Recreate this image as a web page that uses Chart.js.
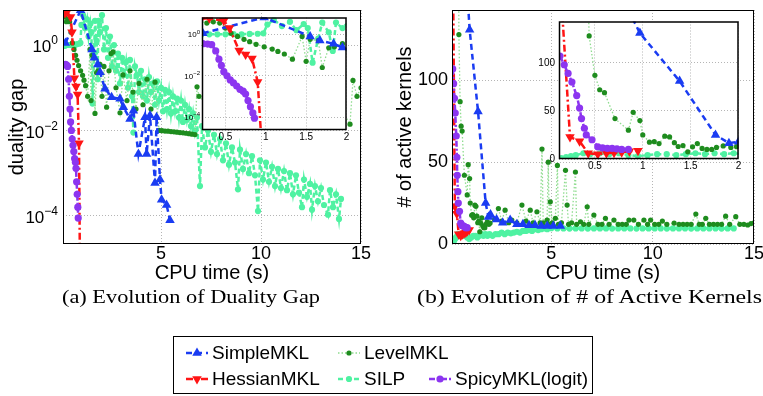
<!DOCTYPE html>
<html><head><meta charset="utf-8">
<script src="https://cdn.jsdelivr.net/npm/chart.js@4.4.1/dist/chart.umd.min.js"></script>
<style>
html,body{margin:0;padding:0;background:#fff}
#wrap{position:relative;width:763px;height:396px;overflow:hidden;font-family:"Liberation Sans",Arial,sans-serif}
#wrap canvas{position:absolute}
.cap{position:absolute;top:287px;font-family:"Liberation Serif","Times New Roman",serif;font-size:19px;line-height:20px;white-space:nowrap;transform-origin:0 0;color:#000}
.leg{position:absolute;font-size:19px;line-height:20px;white-space:nowrap;color:#000}
</style></head><body>
<div id="wrap">
<canvas id="gapMain" width="380" height="290" style="left:0;top:0"></canvas>
<canvas id="kerMain" width="383" height="290" style="left:380px;top:0"></canvas>
<canvas id="gapInset" width="176" height="132" style="left:176px;top:12px"></canvas>
<canvas id="kerInset" width="211" height="157" style="left:533px;top:16px"></canvas>
<div class="cap" id="capA">(a) Evolution of Duality Gap</div>
<div class="cap" id="capB">(b) Evolution of # of Active Kernels</div>
<div id="legBox" style="position:absolute;left:173px;top:336px;width:418px;height:56px;border:1.5px solid #000"></div>
<canvas id="legCanvas" width="420" height="58" style="left:173px;top:336px"></canvas>
</div>
<script>
const FONT = '"Liberation Sans", Arial, Helvetica, sans-serif';

// ---------- (a) duality gap vs CPU time ----------
const simpleGapTime = [0.22, 0.98, 1.55, 1.67, 1.84, 1.95, 2.2, 2.53, 2.95, 3.12, 3.45, 3.62, 3.87, 4.2, 4.28, 4.45, 4.7, 4.78, 4.95, 5.03, 5.28, 5.45];
const simpleGap     = [1.12, 6.5, 0.79, 0.5, 0.35, 0.23, 0.095, 0.06, 0.055, 0.035, 0.0186, 0.029, 0.0028, 0.0204, 0.0028, 0.0224, 5.9e-4, 0.0204, 7.1e-4, 2.4e-4, 1.8e-4, 7.9e-5];

const hessGapTime = [0.2, 0.3, 0.48, 0.55, 0.67, 0.75, 0.83, 0.9, 0.96];
const hessGap     = [5.6, 6.0, 4.5, 2.0, 0.166, 0.107, 0.069, 0.005, 1e-6];

const levelGapTime = [0.18,0.27,0.35,0.43,0.5, 0.57,0.65,0.73,0.8,0.88, 0.98,1.08,1.15,1.23,1.33, 1.45,1.5,1.55,1.65,1.7,
  1.78,1.85,1.95,2.05,2.15, 2.28,2.4,2.5,2.6,2.75, 2.95,3.1,3.3,3.45,3.6, 3.75,3.9,4.1,4.3,4.5,
  4.7,4.9,5.05,5.2,5.35, 5.5,5.65,5.8,5.95,6.1, 6.25,6.4,6.55,6.7,6.8, 6.9,7.5,8.3,9.0,10.0, 11.0,12.0,13.0,14.0,14.45, 14.6,14.8,15.0];
const levelGap = [4.5,3.5,4.0,3.5,2.0, 1.12,0.79,0.575,0.44,0.33, 0.25,0.195,0.15,0.112,0.063, 0.79,0.05,0.575,0.5,0.025,
  0.224,0.25,0.355,0.063,0.316, 0.035,0.25,0.63,0.69,0.1, 0.026,0.2,0.05,0.25,0.079, 0.0316,0.126,0.04,0.158,0.0316,
  0.135,0.01,0.0099,0.0097,0.0096, 0.0094,0.0093,0.0091,0.0089,0.0088, 0.0086,0.0084,0.0082,0.008,0.105, 0.063,0.0316,0.063,0.025,0.05, 0.02,0.04,0.0158,0.0316,0.014, 0.148,0.063,0.1];

const silpGapTime = [0.2,0.3,0.4,0.5,0.6,0.7,0.8,0.9,0.97,1.02,
  1.1,1.2,1.3,1.38,1.47,1.52,1.58,1.65,1.7,1.78,
  1.83,1.87,1.95,2.05,2.15,2.25,2.35,2.45,2.55,2.65,
  2.75,2.85,2.95,3.05,3.15,3.25,3.35,3.45,3.55,3.62,
  3.7,3.8,3.9,4.0,4.1,4.2,4.3,4.4,4.5,4.6,
  4.7,4.8,4.9,5.0,5.1,5.2,5.3,5.4,5.5,5.6,
  5.7,5.8,5.9,6.0,6.1,6.2,6.3,6.4,6.5,6.6,
  6.7,6.8,6.95,7.05,7.2,7.35,7.5,7.65,7.8,7.95,
  8.1,8.25,8.4,8.55,8.7,8.85,8.95,9.1,9.25,9.4,
  9.55,9.7,9.85,9.95,10.1,10.25,10.4,10.55,10.7,10.85,
  11.0,11.15,11.3,11.45,11.6,11.75,11.9,12.05,12.15,12.3,
  12.45,12.55,12.7,12.85,13.0,13.15,13.35,13.45,13.6,13.75,
  13.9,14.0];
const silpGap = [0.955,1.0,1.0,1.0,1.02,1.0,1.05,1.07,1.12,2.95,
  5.0,2.5,4.0,1.58,3.16,2.0,0.0427,0.63,3.7,1.26,
  0.158,3.7,2.0,5.0,0.79,2.5,0.5,1.58,0.316,1.0,
  0.25,0.63,0.126,0.5,0.2,0.4,0.1,0.447,0.063,0.0089,
  0.316,0.2,0.079,0.25,0.063,0.158,0.05,0.178,0.079,0.126,
  0.04,0.141,0.05,0.1,0.028,0.089,0.0316,0.079,0.025,0.063,
  0.028,0.056,0.02,0.05,0.0158,0.04,0.0178,0.0316,0.0126,0.025,
  0.01,0.02,5.0e-4,0.0126,0.004,0.01,0.00316,0.0079,0.0028,0.0063,
  0.002,0.005,0.00158,0.004,0.00178,4.2e-4,0.00355,0.00126,0.0028,0.001,
  0.0025,8.9e-4,1.3e-4,0.002,7.1e-4,0.00178,6.3e-4,0.00141,5.0e-4,0.00126,
  4.5e-4,0.00112,4.0e-4,0.001,3.2e-4,8.9e-4,3.5e-4,1.6e-4,7.1e-4,2.8e-4,
  5.6e-4,1.4e-4,5.0e-4,2.2e-4,4.5e-4,1.8e-4,1.07e-4,4.0e-4,1.6e-4,3.2e-4,
  8.5e-5,2.5e-4];

const spicyGapTime = [0.22,0.28,0.33,0.38,0.42,0.45,0.48,0.52,0.56,0.6,0.64,0.68,0.72,0.75,0.78,0.81,0.84,0.86];
const spicyGap     = [0.355,0.34,0.316,0.158,0.063,0.0316,0.0158,0.01,0.0063,0.0045,0.0032,0.0022,0.0018,0.0013,6.3e-4,3.2e-4,1.6e-4,8.9e-5];

// ---------- (b) number of active kernels vs CPU time ----------
const simpleKerTime = [0.8, 0.97, 1.385, 1.76, 1.9, 2.0, 2.3, 2.6, 2.97, 3.3, 3.6, 3.9, 4.2, 4.5, 4.8, 5.1, 5.45];
const simpleKer     = [165, 131, 81, 25, 16.5, 18, 15, 13, 14.6, 12, 12, 11.5, 11.5, 11, 11, 11, 11];

const hessKerTime = [0.16, 0.24, 0.34, 0.43, 0.53, 0.62, 0.7, 0.78, 0.86, 0.95];
const hessKer     = [150, 23, 18.5, 6, 5, 6, 6.5, 7, 8, 8.6];

const levelKerTime = [0.42,0.44,0.5,0.55,0.6,0.71,0.85,0.9,0.97,1.0,
  1.07,1.12,1.17,1.23,1.28,1.33,1.37,1.42,1.47,1.52,
  1.57,1.62,1.67,1.72,1.77,1.84,1.92,1.98,2.2,2.39,
  2.55,2.72,2.9,3.05,3.3,3.55,3.75,3.96,4.1,4.29,
  4.45,4.54,4.6,4.79,4.85,4.9,4.95,5.05,5.2,5.3,
  5.35,5.5,5.7,5.78,5.85,6.0,6.19,6.25,6.44,6.6,
  6.77,6.85,7.1,7.3,7.5,7.67,7.85,8.09,8.3,8.5,
  8.7,8.83,9.07,9.3,9.57,9.75,9.9,10.1,10.3,10.48,
  10.7,11.06,11.3,11.5,11.7,11.9,12.13,12.3,12.45,12.62,
  12.8,13.0,13.2,13.4,13.6,13.8,14.1,14.3,14.5,14.69,
  14.85,15.0];
const levelKer = [200,128,87,72,69,42,30,48.5,40,25,
  17.5,18,16,23.7,23,17,13,14,7.5,12.7,
  16,11,10,10,12,13.6,12,12.8,15,21.7,
  14,20.7,13,14.6,13,23.8,14,20.7,13,19.7,
  13,58,13,14.6,50,12,25.8,13,15.7,48,
  12,13,45,23.8,12,13,44,12,13.6,12,
  22.7,12,17.7,12,12,15.7,12,14.6,12,12,
  12,14.6,14.6,12,14.6,12,14.6,12,12,14,
  12,12.8,12,12,12,12,18.3,12,12,15.7,
  12,12,12,12,17,12,16.7,12,12,11.6,
  12.5,13];

const silpKerTime = [0.15,0.2,0.25,0.3,0.38,0.45,0.55,0.65,0.75,0.85,
  0.95,1.05,1.15,1.25,1.35,1.45,1.55,1.65,1.75,1.85,
  1.95,2.1,2.25,2.4,2.55,2.7,2.85,3.0,3.15,3.3,
  3.45,3.6,3.75,3.9,4.05,4.2,4.35,4.5,4.65,4.8,
  5.0,5.3,5.6,5.9,6.2,6.5,6.8,7.1,7.4,7.7,
  8.0,8.3,8.6,8.9,9.2,9.5,9.8,10.1,10.4,10.7,
  11.0,11.3,11.6,11.9,12.2,12.5,12.8,13.1,13.4,13.7,
  14.0];
const silpKer = [1,2,3,4,6,5,6,5,6,4,
  3,4,5,5,4,5,6,5,6,5,
  6,5,6,6,7,6,7,6.5,7,7.5,
  7,8,8,8.5,8,9,8.5,9,9.5,9,
  9.7,9.5,9.5,9.4,9.5,9.5,9.4,9.5,9.5,9.5,
  9.4,9.5,9.5,9.5,9.4,9.5,9.5,9.5,9.5,9.4,
  9.5,9.5,9.5,9.4,9.5,9.5,9.5,9.5,9.4,9.5,
  9.5];

const spicyKerTime = [0.135,0.18,0.22,0.26,0.31,0.34,0.36,0.39,0.41,0.47,0.53,0.58,0.63,0.68,0.73,0.78,0.85];
const spicyKer     = [107,98,89,80,66,53,42,32,25,20,12.7,11.5,11,11,10.5,10,10];

// ---------- axis ticks ----------
const timeTicks = [5, 10, 15];
const insetTimeTicks = [0.5, 1, 1.5, 2];
const gapTicks = [1, 1e-2, 1e-4];
const kerTicks = [0, 50, 100];

// ---------- styles ----------
const STY = {
  simple: {label:'SimpleMKL', color:'#1a3cf2', dash:[6,4], lw:2.5, style:'triangle', r:5.5, rot:0, order:3},
  hess:   {label:'HessianMKL', color:'#ff1414', dash:[7,3,2,3], lw:2.5, style:'triangle', r:5.5, rot:180, order:2},
  level:  {label:'LevelMKL', color:'#8fdc8f', pcolor:'#1e8c1e', dash:[1.5,2], lw:1.3, style:'circle', r:2.6, rot:0, order:4},
  silp:   {label:'SILP', color:'#4ff2a2', dash:[5,3], lw:2.5, style:'circle', r:3.1, rot:0, order:5},
  spicy:  {label:'SpicyMKL(logit)', color:'#8c35f0', dash:[6,2,2,2], lw:2.5, style:'circle', r:3.6, rot:0, order:1}
};

function pts(xs, ys){ return xs.map((x,i)=>({x:x, y:ys[i]})); }
function ds(st, xs, ys){
  const pc = st.pcolor || st.color;
  return { label: st.label, data: pts(xs, ys), showLine: true, tension: 0,
    borderColor: st.color, backgroundColor: pc, borderWidth: st.lw, borderDash: st.dash,
    pointStyle: st.style, pointRadius: st.r, pointRotation: st.rot, pointBackgroundColor: pc,
    pointBorderColor: pc, pointBorderWidth: 0, order: st.order, clip: 0 };
}
function gapSets(){ return [ds(STY.simple, simpleGapTime, simpleGap), ds(STY.hess, hessGapTime, hessGap),
  ds(STY.level, levelGapTime, levelGap), ds(STY.silp, silpGapTime, silpGap), ds(STY.spicy, spicyGapTime, spicyGap)]; }
function kerSets(){ return [ds(STY.simple, simpleKerTime, simpleKer), ds(STY.hess, hessKerTime, hessKer),
  ds(STY.level, levelKerTime, levelKer), ds(STY.silp, silpKerTime, silpKer), ds(STY.spicy, spicyKerTime, spicyKer)]; }

// ---------- plugins ----------
const frameBg = {
  id: 'frameBg',
  beforeDraw(c, a, o){ if (o.fill){ const ca=c.chartArea; c.ctx.save(); c.ctx.fillStyle=o.fill; c.ctx.fillRect(ca.left, ca.top, ca.right-ca.left, ca.bottom-ca.top); c.ctx.restore(); } },
  afterDraw(c, a, o){ const ca=c.chartArea, ctx=c.ctx; ctx.save(); ctx.strokeStyle='#000'; ctx.lineWidth=o.lw||1;
    ctx.strokeRect(ca.left+0.5, ca.top+0.5, ca.right-ca.left-1, ca.bottom-ca.top-1); ctx.restore(); }
};
const tickText = {
  id: 'tickText',
  afterDraw(c, a, o){
    const ctx=c.ctx, xs=c.scales.x, ys=c.scales.y, ca=c.chartArea;
    ctx.save(); ctx.fillStyle='#000';
    ctx.textAlign='center'; ctx.textBaseline='top'; ctx.font=o.xSize+'px '+FONT;
    xs.ticks.forEach(t=>{ ctx.fillText(String(t.value), xs.getPixelForValue(t.value), ca.bottom+o.xPad); });
    ys.ticks.forEach(t=>{
      const y = ys.getPixelForValue(t.value);
      if (o.sup){
        const e = Math.round(Math.log10(t.value));
        const sup = e < 0 ? '\u2212' + (-e) : String(e);
        ctx.font = o.ySize+'px '+FONT; const bw = ctx.measureText('10').width;
        ctx.font = o.supSize+'px '+FONT; const sw = ctx.measureText(sup).width;
        const x0 = ca.left - o.yPad - bw - sw;
        ctx.textAlign='left'; ctx.textBaseline='alphabetic';
        const base = y + o.ySize*0.36 + (o.yShift||0);
        ctx.font = o.ySize+'px '+FONT; ctx.fillText('10', x0, base);
        ctx.font = o.supSize+'px '+FONT; ctx.fillText(sup, x0+bw, base - o.ySize*0.45);
      } else {
        ctx.textAlign='right'; ctx.textBaseline='middle'; ctx.font=o.ySize+'px '+FONT;
        ctx.fillText(String(t.value), ca.left - o.yPad, y);
      }
    });
    ctx.restore();
  }
};

function axes(o){
  const grid = {color:'#b5b5b5', lineWidth:1, drawTicks:false};
  const border = {display:false, dash:[1,2]};
  return {
    x: { type:'linear', min:o.xmin, max:o.xmax,
      afterBuildTicks: s=>{ s.ticks = o.xticks.map(v=>({value:v})); },
      afterFit: s=>{ s.height = o.xh; },
      grid: grid, border: border, ticks:{display:false},
      title: o.xtitle ? {display:true, text:o.xtitle, color:'#000', font:{family:FONT, size:20}, padding:{top:0, bottom:o.xtp}} : {display:false} },
    y: { type:o.ylog ? 'logarithmic' : 'linear', min:o.ymin, max:o.ymax,
      afterBuildTicks: s=>{ s.ticks = o.yticks.map(v=>({value:v})); },
      afterFit: s=>{ s.width = o.yw; },
      grid: grid, border: border, ticks:{display:false},
      title: o.ytitle ? {display:true, text:o.ytitle, color:'#000', font:{family:FONT, size:20}, padding:{top:o.ytp, bottom:0}} : {display:false} }
  };
}

function make(id, sets, pad, ax, frame, ticks){
  return new Chart(document.getElementById(id), {
    type: 'scatter',
    data: { datasets: sets },
    options: { responsive:false, animation:false, events:[],
      layout: { padding: pad },
      plugins: { legend:{display:false}, tooltip:{enabled:false}, frameBg: frame, tickText: ticks },
      scales: axes(ax) },
    plugins: [frameBg, tickText]
  });
}

make('gapMain', gapSets(), {top:10, right:19, left:0, bottom:0},
  {xmin:0.1, xmax:15, xticks:timeTicks, xh:46, xtitle:'CPU time (s)', xtp:5,
   ylog:true, ymin:2.2e-5, ymax:6.6, yticks:gapTicks, yw:63, ytitle:'duality gap', ytp:5},
  {lw:1}, {xSize:18, xPad:1, sup:true, ySize:17, supSize:12, yPad:5, yShift:1});

make('kerMain', kerSets(), {top:10, right:9, left:0, bottom:0},
  {xmin:0.1, xmax:15, xticks:timeTicks, xh:46, xtitle:'CPU time (s)', xtp:5,
   ylog:false, ymin:0, ymax:143, yticks:kerTicks, yw:72, ytitle:'# of active kernels', ytp:13},
  {lw:1}, {xSize:18, xPad:1, sup:false, ySize:18, yPad:4});

make('gapInset', gapSets(), {top:4, right:4, left:0, bottom:0},
  {xmin:0.21, xmax:2, xticks:insetTimeTicks, xh:14,
   ylog:true, ymin:2.4e-5, ymax:6.5, yticks:gapTicks, yw:26},
  {lw:1.5, fill:'#fff'}, {xSize:10, xPad:2, sup:true, ySize:8, supSize:6, yPad:2, yShift:0});

make('kerInset', kerSets(), {top:4, right:4, left:0, bottom:0},
  {xmin:0.125, xmax:2, xticks:insetTimeTicks, xh:14,
   ylog:false, ymin:0, ymax:143, yticks:kerTicks, yw:26},
  {lw:1.5, fill:'#fff'}, {xSize:10, xPad:2, sup:false, ySize:10, yPad:4});

// ---------- captions ----------
function fitCap(id, left, right){
  const el = document.getElementById(id);
  el.style.left = left + 'px';
  const w = el.getBoundingClientRect().width;
  el.style.transform = 'scaleX(' + ((right-left)/w) + ')';
}
fitCap('capA', 62, 320);
fitCap('capB', 417, 762);

// ---------- legend ----------
const legendItems = [
  {st:STY.simple, x:186, y:17},
  {st:STY.hess,   x:186, y:43},
  {st:STY.level,  x:338, y:17},
  {st:STY.silp,   x:338, y:43},
  {st:STY.spicy,  x:429, y:43}
];
const lc = document.getElementById('legCanvas').getContext('2d');
const wrap = document.getElementById('wrap');
legendItems.forEach(it=>{
  const st = it.st, x0 = it.x - 173, y = it.y;
  lc.save();
  lc.strokeStyle = st.color; lc.lineWidth = st.lw; lc.setLineDash(st.dash);
  lc.beginPath(); lc.moveTo(x0, y); lc.lineTo(x0+22, y); lc.stroke();
  lc.setLineDash([]);
  lc.fillStyle = st.pcolor || st.color; lc.strokeStyle = st.pcolor || st.color;
  Chart.helpers.drawPoint(lc, {pointStyle:st.style, radius:st.r, rotation:st.rot, borderWidth:0}, x0+11, y);
  lc.restore();
  const t = document.createElement('div');
  t.className = 'leg'; t.textContent = st.label;
  t.style.left = (it.x + 26) + 'px'; t.style.top = (336 + y - 10) + 'px';
  wrap.appendChild(t);
});
</script>
</body></html>
